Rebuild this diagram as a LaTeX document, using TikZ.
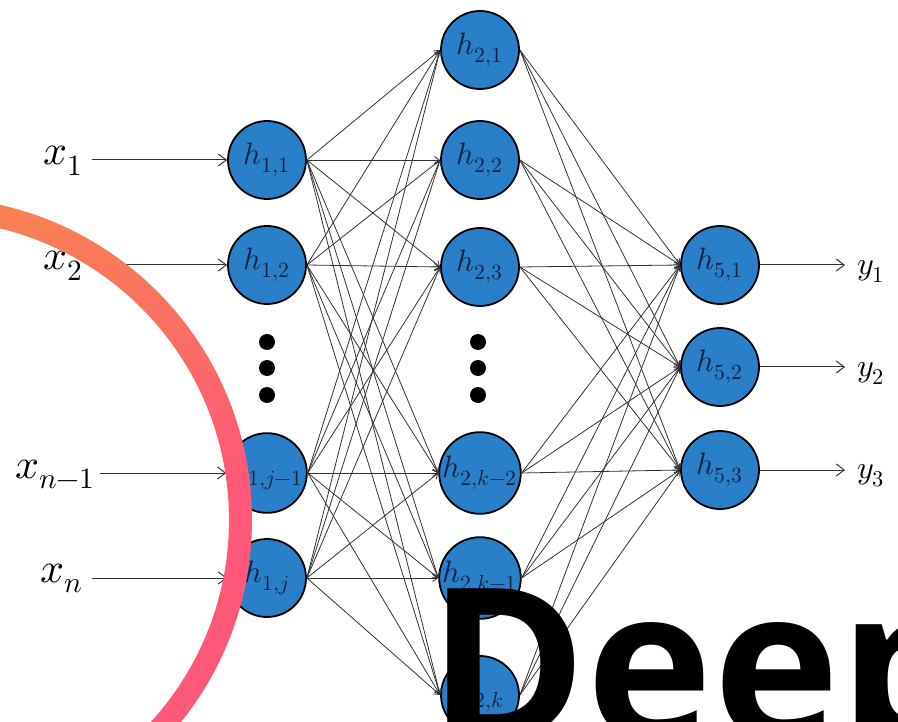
\documentclass[tikz,border=0pt]{standalone}
\usepackage{fontspec}
\usepackage{unicode-math}
\setmathfont{Latin Modern Math}
\newfontfamily\deepfont{Open Sans}
\usetikzlibrary{arrows.meta}
\definecolor{nodeblue}{RGB}{42,128,200}
\definecolor{labnavy}{RGB}{18,34,70}
\definecolor{edgegray}{RGB}{50,50,50}
\definecolor{arcorange}{RGB}{247,132,80}
\definecolor{arcpink}{RGB}{255,88,120}
\begin{document}
\begin{tikzpicture}[x=1pt,y=-1pt,
  neuron/.style={circle,draw=black,line width=1.8pt,fill=nodeblue,minimum size=78pt,inner sep=0pt,
    font=\fontsize{31}{31}\selectfont,text=labnavy},
  conn/.style={draw=edgegray,line width=0.8pt,-{Straight Barb[length=5pt,width=7pt]}},
  io/.style={draw=edgegray,line width=1pt,-{Straight Barb[length=8pt,width=12pt]}},
  dotnode/.style={circle,fill=black,minimum size=16pt,inner sep=0pt},
  inlab/.style={anchor=base west,inner sep=0pt,font=\fontsize{42}{42}\selectfont},
  outlab/.style={anchor=west,inner sep=0pt,font=\fontsize{32}{32}\selectfont}]
\useasboundingbox (0,0) rectangle (898,722);
\clip (0,0) rectangle (898,722);

% layer 1
\node[neuron] (a1) at (267,160) {$h_{1,1}$};
\node[neuron] (a2) at (267,265) {$h_{1,2}$};
\node[neuron] (a3) at (267,473) {$h_{1,j-1}$};
\node[neuron] (a4) at (267,578) {$h_{1,j}$};
% layer 2
\node[neuron] (b1) at (480,50) {$h_{2,1}$};
\node[neuron] (b2) at (480,160) {$h_{2,2}$};
\node[neuron] (b3) at (480,267) {$h_{2,3}$};
\node[neuron] (b4) at (480,473) {$h_{2,k-2}$};
\node[neuron] (b5) at (480,578) {$h_{2,k-1}$};
\node[neuron] (b6) at (480,695) {$h_{2,k}$};
% layer 5
\node[neuron] (c1) at (720,265) {$h_{5,1}$};
\node[neuron] (c2) at (720,367) {$h_{5,2}$};
\node[neuron] (c3) at (720,470) {$h_{5,3}$};

% dots
\node[dotnode] (d1) at (267,342) {};
\node[dotnode] (d2) at (267,368) {};
\node[dotnode] (d3) at (267,395) {};
\node[dotnode] (e1) at (478,342) {};
\node[dotnode] (e2) at (478,368) {};
\node[dotnode] (e3) at (478,395) {};

% connections
\foreach \i in {a1,a2,a3,a4}
  \foreach \j in {b1,b2,b3,b4,b5,b6}
    \draw[conn] (\i.east) -- (\j.west);
\foreach \i in {b1,b2,b3,b4,b5,b6}
  \foreach \j in {c1,c2,c3}
    \draw[conn] (\i.east) -- (\j.west);

% inputs
\node[inlab] (lx1) at (43,165) {$x_1$};
\node[inlab] (lx2) at (43,270) {$x_2$};
\node[inlab] (lx3) at (15,478) {$x_{n-1}$};
\node[inlab] (lx4) at (40,582) {$x_n$};
\coordinate (i1) at (92,160);
\coordinate (i2) at (92,265);
\coordinate (i3) at (100,473);
\coordinate (i4) at (92,578);
\draw[io] (i1) -- (a1.west);
\draw[io] (i2) -- (a2.west);
\draw[io] (i3) -- (a3.west);
\draw[io] (i4) -- (a4.west);

% outputs
\coordinate (o1) at (845,265);
\coordinate (o2) at (845,367);
\coordinate (o3) at (845,470);
\draw[io] (c1.east) -- (o1);
\draw[io] (c2.east) -- (o2);
\draw[io] (c3.east) -- (o3);
\node[outlab] (ly1) at (857,271) {$y_1$};
\node[outlab] (ly2) at (857,373) {$y_2$};
\node[outlab] (ly3) at (857,476) {$y_3$};

% gradient arc
\begin{scope}[even odd rule]
  \clip (-71,520) circle (323) (-71,520) circle (300);
  \shade[top color=arcorange,bottom color=arcpink] (-100,190) rectangle (300,480);
  \fill[arcpink] (-100,479) rectangle (300,760);
\end{scope}

% title text
\node[anchor=base west,inner sep=0pt,font=\deepfont\bfseries\fontsize{214}{214}\selectfont] (deep) at (428,741) {Deep};
\end{tikzpicture}
\end{document}
